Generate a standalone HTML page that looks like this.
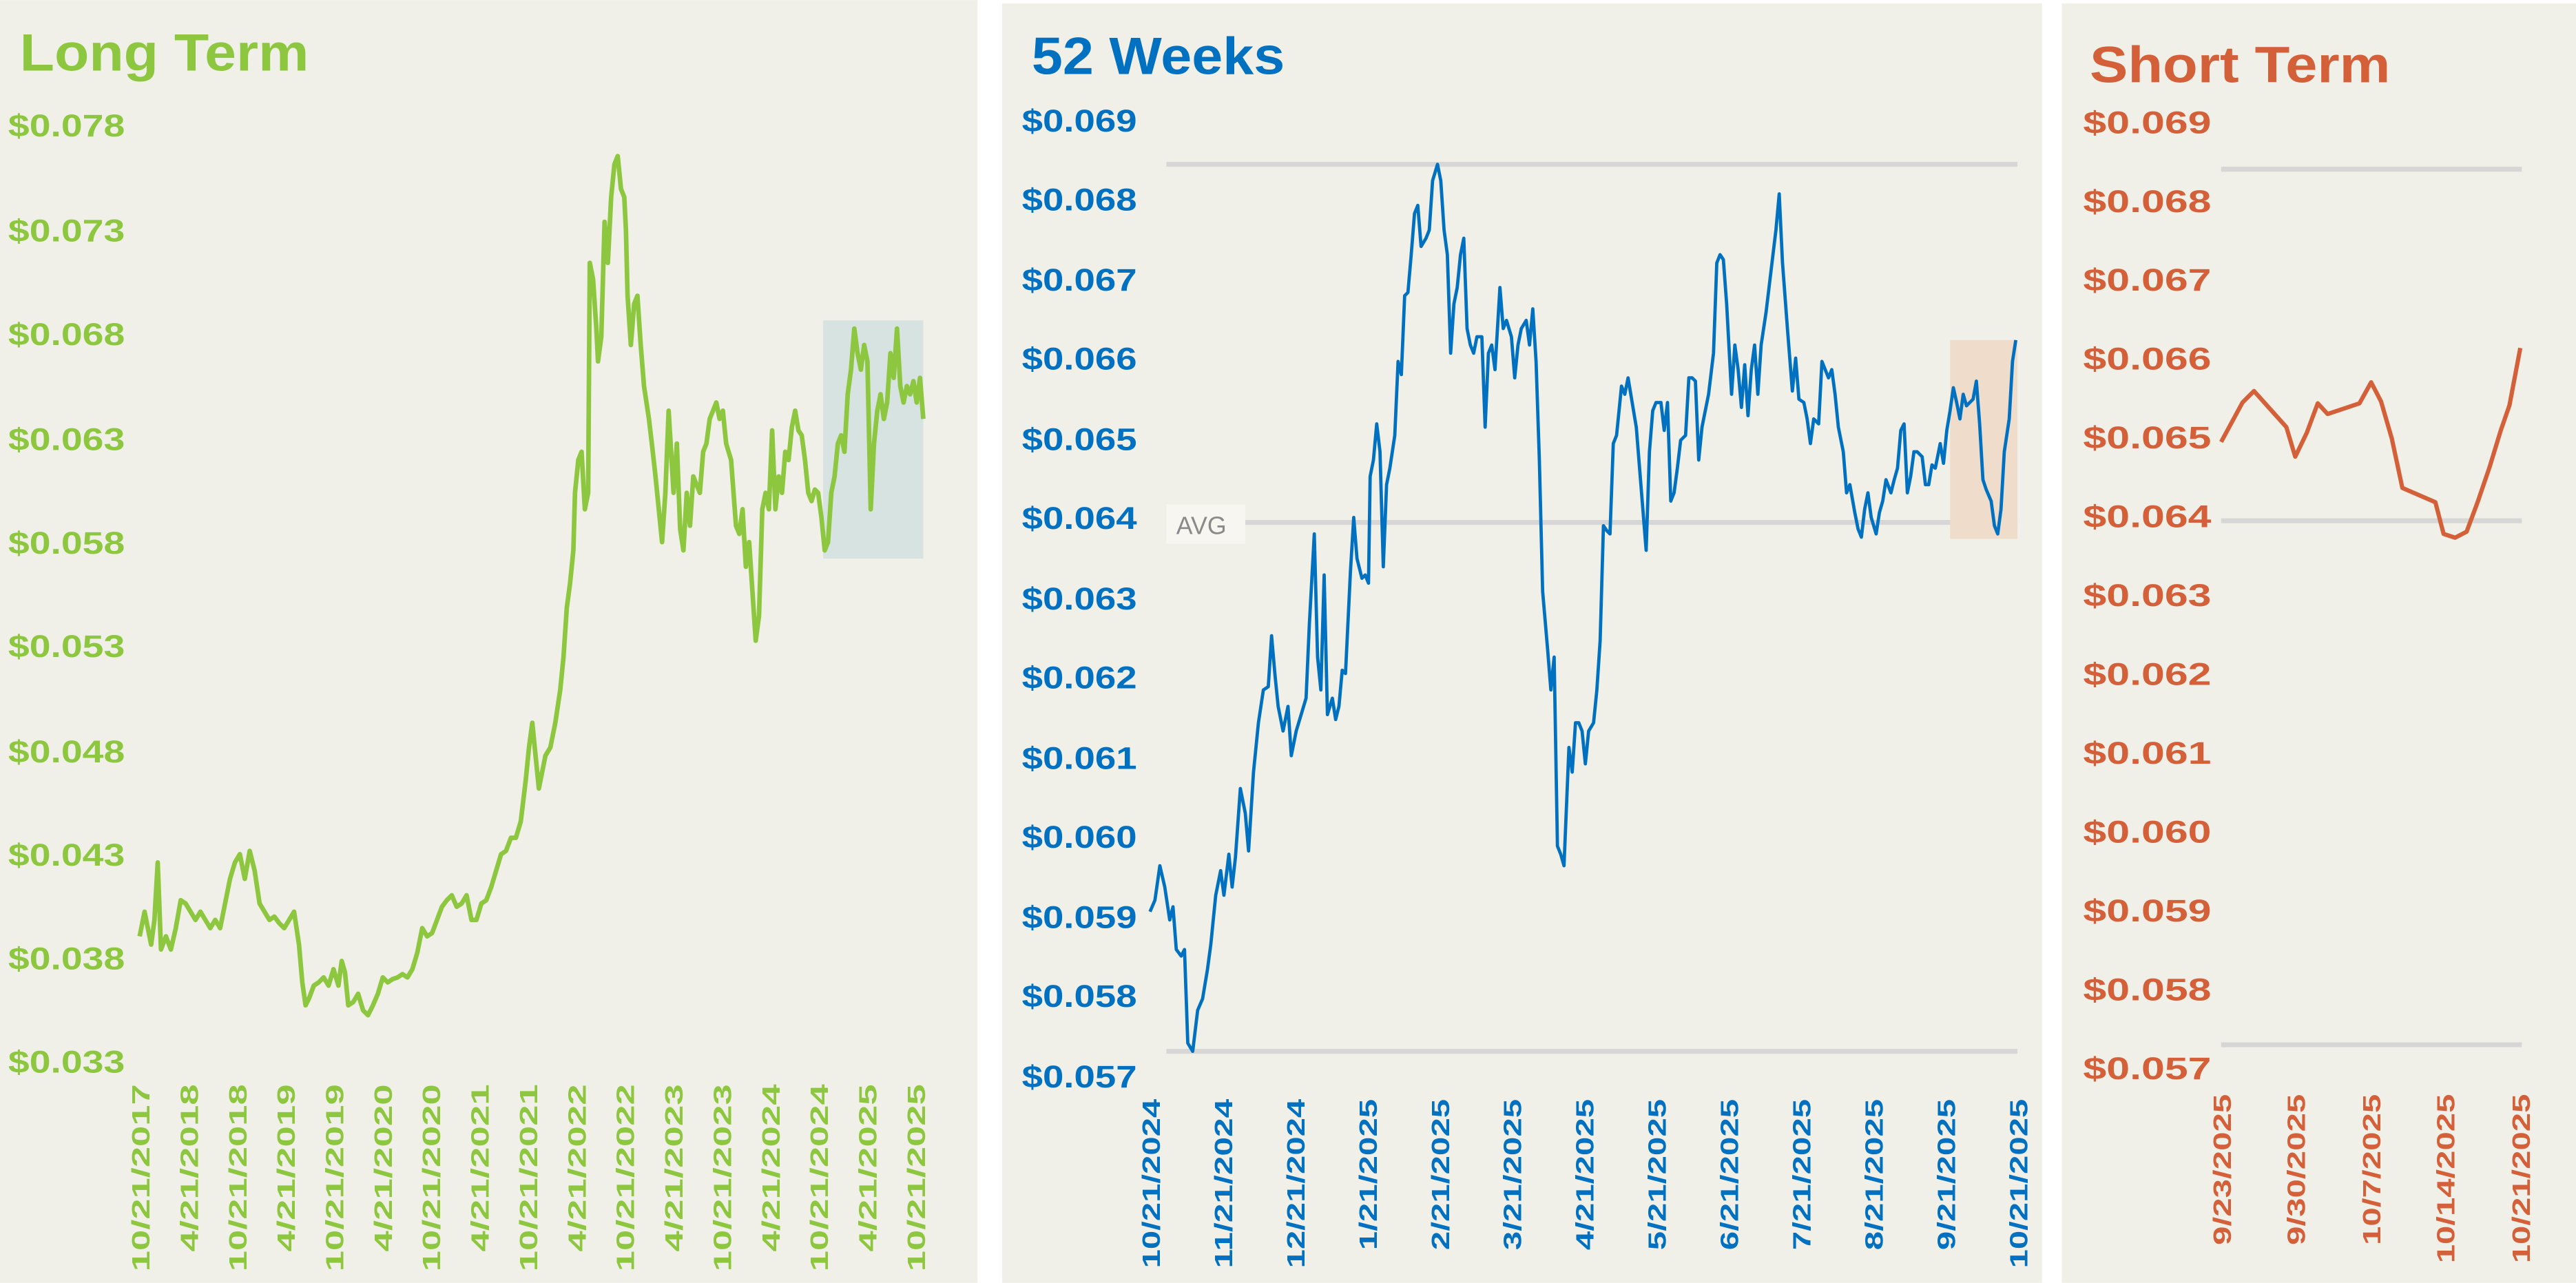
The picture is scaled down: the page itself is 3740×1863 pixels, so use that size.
<!DOCTYPE html>
<html><head><meta charset="utf-8"><style>
html,body{margin:0;padding:0;background:#fff;}
svg{display:block;}
text{font-family:"Liberation Sans",sans-serif;font-weight:bold;}
</style></head><body>
<svg width="3740" height="1863" viewBox="0 0 1568 781" xmlns="http://www.w3.org/2000/svg">
<rect x="0" y="0" width="1568" height="781" fill="#ffffff"/>
<!-- Panel 1 -->
<rect x="0" y="0" width="595" height="781" fill="#f1f0e8"/>
<text x="12" y="43" font-size="32" fill="#8dc63f" textLength="176" lengthAdjust="spacingAndGlyphs">Long Term</text>
<g font-size="19" fill="#8dc63f">
<text x="5" y="83" textLength="71" lengthAdjust="spacingAndGlyphs">$0.078</text><text x="5" y="147" textLength="71" lengthAdjust="spacingAndGlyphs">$0.073</text><text x="5" y="210" textLength="71" lengthAdjust="spacingAndGlyphs">$0.068</text>
<text x="5" y="274" textLength="71" lengthAdjust="spacingAndGlyphs">$0.063</text><text x="5" y="337" textLength="71" lengthAdjust="spacingAndGlyphs">$0.058</text><text x="5" y="400" textLength="71" lengthAdjust="spacingAndGlyphs">$0.053</text>
<text x="5" y="464" textLength="71" lengthAdjust="spacingAndGlyphs">$0.048</text><text x="5" y="527" textLength="71" lengthAdjust="spacingAndGlyphs">$0.043</text><text x="5" y="590" textLength="71" lengthAdjust="spacingAndGlyphs">$0.038</text>
<text x="5" y="653" textLength="71" lengthAdjust="spacingAndGlyphs">$0.033</text>
</g>
<rect x="501" y="195" width="61" height="145" fill="#d7e3e0"/>
<polyline fill="none" stroke="#8dc63f" stroke-width="2.8" stroke-linejoin="round" points="85,570 88,555 90,565 92,575 94,560 96,525 98,578 101,570 104,578 107,565 110,548 113,550 116,555 119,560 122,555 125,560 128,565 131,560 134,565 137,550 140,535 143,525 146,520 149,535 152,518 155,530 158,550 161,555 164,560 167,558 170,562 173,565 176,560 179,555 182,575 184,598 186,612 188,608 191,600 194,598 197,595 200,600 203,590 206,600 208,585 210,592 212,612 215,610 218,605 221,615 224,618 227,612 230,605 233,595 236,598 239,596 242,595 245,593 248,595 251,590 254,580 257,565 260,570 263,568 266,560 269,552 272,548 275,545 278,552 281,550 284,545 287,560 290,560 293,550 296,548 299,540 302,530 305,520 308,518 311,510 314,510 317,500 320,475 322,455 324,440 326,460 328,480 330,470 332,460 335,455 338,440 341,420 343,400 345,370 347,355 349,335 350,300 352,280 354,275 356,310 358,300 359,160 361,170 363,200 364,220 366,205 368,135 370,160 372,120 374,100 376,95 378,115 380,120 381,140 382,180 384,210 386,185 388,180 390,210 392,235 395,255 397,272 399,290 401,310 403,330 405,300 407,250 410,300 412,270 414,322 416,335 418,300 420,320 422,290 424,295 426,300 428,275 430,270 432,255 434,250 436,245 438,255 440,250 442,270 445,280 448,320 450,325 452,310 454,345 456,330 458,360 460,390 462,375 464,310 466,300 468,310 470,262 472,310 474,290 476,300 478,275 480,280 482,260 484,250 486,262 488,265 490,280 492,300 494,305 496,298 498,300 500,315 502,335 504,330 506,300 508,290 510,270 512,265 514,275 516,240 518,225 520,200 522,215 524,225 526,210 528,220 530,310 532,270 534,250 536,240 538,255 540,245 542,215 544,230 546,200 548,235 550,245 552,235 554,240 556,232 558,245 560,230 562,255"/>
<g font-size="15" fill="#8dc63f" text-anchor="end">
<text transform="translate(91,660) rotate(-90)" textLength="114" lengthAdjust="spacingAndGlyphs">10/21/2017</text>
<text transform="translate(120.5,660) rotate(-90)" textLength="102" lengthAdjust="spacingAndGlyphs">4/21/2018</text>
<text transform="translate(150,660) rotate(-90)" textLength="114" lengthAdjust="spacingAndGlyphs">10/21/2018</text>
<text transform="translate(179.5,660) rotate(-90)" textLength="102" lengthAdjust="spacingAndGlyphs">4/21/2019</text>
<text transform="translate(209,660) rotate(-90)" textLength="114" lengthAdjust="spacingAndGlyphs">10/21/2019</text>
<text transform="translate(238.5,660) rotate(-90)" textLength="102" lengthAdjust="spacingAndGlyphs">4/21/2020</text>
<text transform="translate(268,660) rotate(-90)" textLength="114" lengthAdjust="spacingAndGlyphs">10/21/2020</text>
<text transform="translate(297.5,660) rotate(-90)" textLength="102" lengthAdjust="spacingAndGlyphs">4/21/2021</text>
<text transform="translate(327,660) rotate(-90)" textLength="114" lengthAdjust="spacingAndGlyphs">10/21/2021</text>
<text transform="translate(356.5,660) rotate(-90)" textLength="102" lengthAdjust="spacingAndGlyphs">4/21/2022</text>
<text transform="translate(386,660) rotate(-90)" textLength="114" lengthAdjust="spacingAndGlyphs">10/21/2022</text>
<text transform="translate(415.5,660) rotate(-90)" textLength="102" lengthAdjust="spacingAndGlyphs">4/21/2023</text>
<text transform="translate(445,660) rotate(-90)" textLength="114" lengthAdjust="spacingAndGlyphs">10/21/2023</text>
<text transform="translate(474.5,660) rotate(-90)" textLength="102" lengthAdjust="spacingAndGlyphs">4/21/2024</text>
<text transform="translate(504,660) rotate(-90)" textLength="114" lengthAdjust="spacingAndGlyphs">10/21/2024</text>
<text transform="translate(533.5,660) rotate(-90)" textLength="102" lengthAdjust="spacingAndGlyphs">4/21/2025</text>
<text transform="translate(563,660) rotate(-90)" textLength="114" lengthAdjust="spacingAndGlyphs">10/21/2025</text>
</g>
<!-- Panel 2 -->
<rect x="610" y="2" width="633" height="779" fill="#f1f0e8"/>
<text x="628" y="45" font-size="32" fill="#0070c0" textLength="154" lengthAdjust="spacingAndGlyphs">52 Weeks</text>
<g font-size="19" fill="#0070c0">
<text x="622" y="80" textLength="70" lengthAdjust="spacingAndGlyphs">$0.069</text><text x="622" y="128" textLength="70" lengthAdjust="spacingAndGlyphs">$0.068</text><text x="622" y="177" textLength="70" lengthAdjust="spacingAndGlyphs">$0.067</text>
<text x="622" y="225" textLength="70" lengthAdjust="spacingAndGlyphs">$0.066</text><text x="622" y="274" textLength="70" lengthAdjust="spacingAndGlyphs">$0.065</text><text x="622" y="322" textLength="70" lengthAdjust="spacingAndGlyphs">$0.064</text>
<text x="622" y="371" textLength="70" lengthAdjust="spacingAndGlyphs">$0.063</text><text x="622" y="419" textLength="70" lengthAdjust="spacingAndGlyphs">$0.062</text><text x="622" y="468" textLength="70" lengthAdjust="spacingAndGlyphs">$0.061</text>
<text x="622" y="516" textLength="70" lengthAdjust="spacingAndGlyphs">$0.060</text><text x="622" y="565" textLength="70" lengthAdjust="spacingAndGlyphs">$0.059</text><text x="622" y="613" textLength="70" lengthAdjust="spacingAndGlyphs">$0.058</text>
<text x="622" y="662" textLength="70" lengthAdjust="spacingAndGlyphs">$0.057</text>
</g>
<g stroke="#d6d6d6" stroke-width="3">
<line x1="710" y1="100" x2="1228" y2="100"/><line x1="710" y1="318" x2="1228" y2="318"/><line x1="710" y1="640" x2="1228" y2="640"/>
</g>
<rect x="710" y="307" width="48" height="24" fill="#f7f6f1"/>
<text x="716" y="325" font-size="15" fill="#8a8a8a" style="font-weight:normal">AVG</text>
<rect x="1187" y="207" width="41" height="121" fill="#f0dccb"/>
<polyline fill="none" stroke="#0070c0" stroke-width="2" stroke-linejoin="round" points="700,555 703,548 706,527 709,540 712,560 714,552 716,578 719,582 721,578 723,635 726,640 729,615 732,608 735,590 737,575 740,545 743,530 745,545 748,520 750,540 752,522 755,480 758,495 760,518 763,470 766,440 769,420 772,418 774,387 776,410 778,430 781,445 784,430 786,460 789,445 792,435 795,425 797,380 800,325 802,400 804,420 806,350 808,435 811,425 813,438 815,430 817,408 819,410 822,348 824,315 826,340 829,352 831,350 833,355 834,290 836,280 838,258 840,275 842,345 844,295 846,285 849,265 851,220 853,228 855,180 857,178 859,155 861,130 863,125 865,150 868,145 870,140 872,110 875,100 877,110 879,140 881,155 883,215 885,185 887,175 889,155 891,145 893,200 895,210 897,215 899,205 902,205 904,260 906,215 908,210 910,225 913,175 915,200 917,195 920,205 922,230 924,210 926,200 929,195 931,210 933,188 935,220 937,280 939,360 942,395 944,420 946,400 948,515 950,520 952,527 955,455 957,470 959,440 961,440 963,445 965,465 967,445 970,440 972,420 974,390 976,320 978,323 980,325 982,270 984,265 987,235 989,240 991,230 994,248 996,260 998,285 1000,310 1002,335 1004,275 1006,250 1008,245 1011,245 1013,262 1015,245 1017,305 1019,300 1021,285 1023,268 1026,265 1028,230 1030,230 1032,232 1034,280 1036,260 1040,240 1043,215 1045,160 1047,155 1049,158 1051,185 1054,240 1056,210 1058,225 1060,248 1062,222 1064,253 1066,225 1068,210 1070,240 1072,210 1075,190 1078,165 1081,140 1083,118 1085,160 1088,200 1091,238 1093,218 1095,243 1098,245 1100,255 1102,270 1104,255 1107,258 1109,220 1111,225 1113,230 1115,225 1117,240 1119,260 1122,275 1124,300 1126,295 1129,312 1131,322 1133,327 1135,310 1137,300 1139,315 1142,325 1144,312 1146,305 1148,292 1151,300 1153,292 1155,285 1157,262 1159,258 1161,300 1163,290 1165,275 1167,275 1170,278 1172,295 1174,295 1176,283 1178,285 1181,270 1183,282 1185,262 1187,250 1189,236 1191,245 1193,255 1195,240 1197,247 1199,245 1201,243 1203,232 1205,258 1207,292 1209,298 1212,305 1214,320 1216,325 1218,310 1220,275 1223,255 1225,220 1227,207"/>
<g font-size="15" fill="#0070c0" text-anchor="end">
<text transform="translate(706,669) rotate(-90)" textLength="103" lengthAdjust="spacingAndGlyphs">10/21/2024</text>
<text transform="translate(750,669) rotate(-90)" textLength="103" lengthAdjust="spacingAndGlyphs">11/21/2024</text>
<text transform="translate(794,669) rotate(-90)" textLength="103" lengthAdjust="spacingAndGlyphs">12/21/2024</text>
<text transform="translate(838,669) rotate(-90)" textLength="92" lengthAdjust="spacingAndGlyphs">1/21/2025</text>
<text transform="translate(882,669) rotate(-90)" textLength="92" lengthAdjust="spacingAndGlyphs">2/21/2025</text>
<text transform="translate(926,669) rotate(-90)" textLength="92" lengthAdjust="spacingAndGlyphs">3/21/2025</text>
<text transform="translate(970,669) rotate(-90)" textLength="92" lengthAdjust="spacingAndGlyphs">4/21/2025</text>
<text transform="translate(1014,669) rotate(-90)" textLength="92" lengthAdjust="spacingAndGlyphs">5/21/2025</text>
<text transform="translate(1058,669) rotate(-90)" textLength="92" lengthAdjust="spacingAndGlyphs">6/21/2025</text>
<text transform="translate(1102,669) rotate(-90)" textLength="92" lengthAdjust="spacingAndGlyphs">7/21/2025</text>
<text transform="translate(1146,669) rotate(-90)" textLength="92" lengthAdjust="spacingAndGlyphs">8/21/2025</text>
<text transform="translate(1190,669) rotate(-90)" textLength="92" lengthAdjust="spacingAndGlyphs">9/21/2025</text>
<text transform="translate(1234,669) rotate(-90)" textLength="103" lengthAdjust="spacingAndGlyphs">10/21/2025</text>
</g>
<!-- Panel 3 -->
<rect x="1255" y="2" width="313" height="779" fill="#f1f0e8"/>
<text x="1272" y="50" font-size="31" fill="#d4603a" textLength="183" lengthAdjust="spacingAndGlyphs">Short Term</text>
<g font-size="19" fill="#d4603a">
<text x="1268" y="81" textLength="78" lengthAdjust="spacingAndGlyphs">$0.069</text><text x="1268" y="129" textLength="78" lengthAdjust="spacingAndGlyphs">$0.068</text><text x="1268" y="177" textLength="78" lengthAdjust="spacingAndGlyphs">$0.067</text>
<text x="1268" y="225" textLength="78" lengthAdjust="spacingAndGlyphs">$0.066</text><text x="1268" y="273" textLength="78" lengthAdjust="spacingAndGlyphs">$0.065</text><text x="1268" y="321" textLength="78" lengthAdjust="spacingAndGlyphs">$0.064</text>
<text x="1268" y="369" textLength="78" lengthAdjust="spacingAndGlyphs">$0.063</text><text x="1268" y="417" textLength="78" lengthAdjust="spacingAndGlyphs">$0.062</text><text x="1268" y="465" textLength="78" lengthAdjust="spacingAndGlyphs">$0.061</text>
<text x="1268" y="513" textLength="78" lengthAdjust="spacingAndGlyphs">$0.060</text><text x="1268" y="561" textLength="78" lengthAdjust="spacingAndGlyphs">$0.059</text><text x="1268" y="609" textLength="78" lengthAdjust="spacingAndGlyphs">$0.058</text>
<text x="1268" y="657" textLength="78" lengthAdjust="spacingAndGlyphs">$0.057</text>
</g>
<g stroke="#d6d6d6" stroke-width="3">
<line x1="1352" y1="103" x2="1535" y2="103"/><line x1="1352" y1="317" x2="1535" y2="317"/><line x1="1352" y1="636" x2="1535" y2="636"/>
</g>
<polyline fill="none" stroke="#d4603a" stroke-width="2.6" stroke-linejoin="round" points="1352,269 1365,245 1372,238 1391.7,260 1397.1,278 1404.1,263.5 1410.8,245.5 1416.8,252 1436.2,245.5 1443.3,232.7 1449.3,244.3 1455.9,267 1462.3,297 1482.4,305.7 1487.4,325 1494.4,327.3 1501.4,323.7 1508.1,305.7 1515.5,284 1522.1,262.3 1527.5,246.7 1534.1,211.8"/>
<g font-size="15" fill="#d4603a" text-anchor="end">
<text transform="translate(1358,666) rotate(-90)" textLength="92" lengthAdjust="spacingAndGlyphs">9/23/2025</text>
<text transform="translate(1403,666) rotate(-90)" textLength="92" lengthAdjust="spacingAndGlyphs">9/30/2025</text>
<text transform="translate(1449,666) rotate(-90)" textLength="92" lengthAdjust="spacingAndGlyphs">10/7/2025</text>
<text transform="translate(1494,666) rotate(-90)" textLength="103" lengthAdjust="spacingAndGlyphs">10/14/2025</text>
<text transform="translate(1540,666) rotate(-90)" textLength="103" lengthAdjust="spacingAndGlyphs">10/21/2025</text>
</g>
</svg>
</body></html>
